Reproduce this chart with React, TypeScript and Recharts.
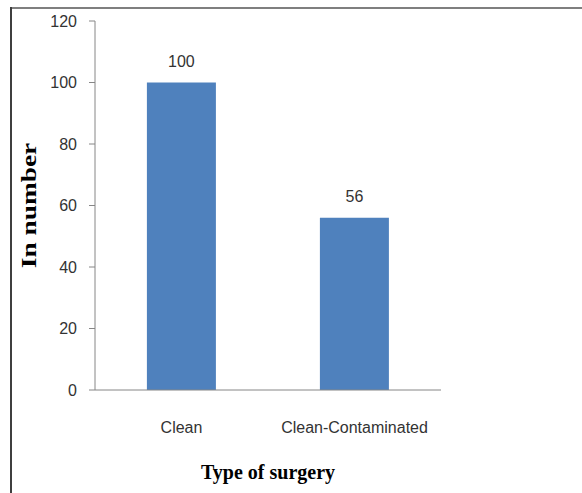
import React from 'react';
import { BarChart, Bar, XAxis, YAxis, LabelList, Label } from 'recharts';

const categories = ['Clean', 'Clean-Contaminated'];
const counts = [100, 56];
const yTicks = [0, 20, 40, 60, 80, 100, 120];

const data = categories.map((name, i) => ({ name, value: counts[i] }));

const tickFont = '"Liberation Sans Narrow", "Liberation Sans", Arial, sans-serif';
const titleFont = '"Liberation Serif", "Times New Roman", serif';

const YTitle = (props: any) => {
  const vb = props.viewBox || {};
  const cx = (vb.x || 0) + 36;
  const cy = (vb.y || 0) + (vb.height || 0) / 2;
  return (
    <text
      transform={`translate(${cx},${cy}) rotate(-90) scale(1.37,1)`}
      textAnchor="middle"
      fontFamily={titleFont}
      fontWeight="bold"
      fontSize={20}
      fill="#000"
    >
      In number
    </text>
  );
};

const XTitle = (props: any) => {
  const vb = props.viewBox || {};
  const cx = (vb.x || 0) + (vb.width || 0) / 2;
  const cy = (vb.y || 0) + 89;
  return (
    <text
      x={cx}
      y={cy}
      textAnchor="middle"
      fontFamily={titleFont}
      fontWeight="bold"
      fontSize={20}
      fill="#000"
    >
      Type of surgery
    </text>
  );
};

export default function App() {
  return (
    <div style={{ position: 'absolute', left: 0, top: 0, width: 582, height: 493, background: '#fff' }}>
      <div style={{ position: 'absolute', left: 10, top: 7, right: 0, height: 0, borderTop: '2px solid #7f7f7f' }} />
      <div style={{ position: 'absolute', left: 10, top: 7, bottom: 0, width: 0, borderLeft: '2px solid #3f3f3f' }} />
      <BarChart
        width={582}
        height={493}
        data={data}
        margin={{ top: 21, right: 141, bottom: 0, left: 0 }}
        barCategoryGap="30%"
      >
        <YAxis
          width={95}
          domain={[0, 120]}
          ticks={yTicks}
          interval={0}
          tickSize={6}
          tickMargin={12}
          axisLine={{ stroke: '#868686' }}
          tickLine={{ stroke: '#868686' }}
          tick={{ fontSize: 16, fill: '#333', fontFamily: tickFont }}
        >
          <Label content={<YTitle />} />
        </YAxis>
        <XAxis
          dataKey="name"
          height={103}
          tickLine={false}
          tickSize={0}
          tickMargin={32}
          axisLine={{ stroke: '#868686' }}
          tick={{ fontSize: 16, fill: '#333', fontFamily: tickFont }}
        >
          <Label content={<XTitle />} />
        </XAxis>
        <Bar dataKey="value" fill="#4f81bd" isAnimationActive={false}>
          <LabelList
            dataKey="value"
            position="top"
            offset={16}
            fill="#333"
            fontSize={16}
            fontFamily={tickFont}
          />
        </Bar>
      </BarChart>
    </div>
  );
}
